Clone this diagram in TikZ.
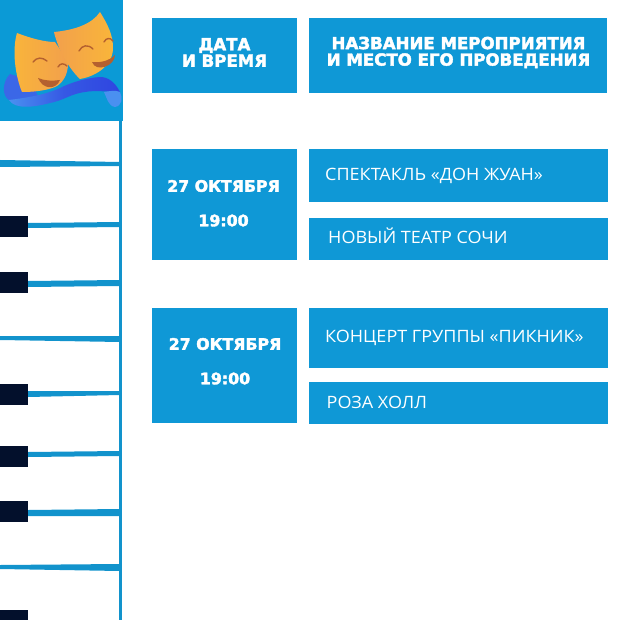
\documentclass[tikz,border=0pt]{standalone}
\usepackage{fontspec}
\setmainfont{DejaVu Sans}[BoldFeatures={FakeBold=2.4}]
\newfontfamily\namefont{Open Sans}[FakeStretch=1.06]
\usetikzlibrary{positioning}
\definecolor{panelblue}{HTML}{0B9AD6}
\definecolor{boxblue}{HTML}{0F98D6}
\definecolor{keyblack}{HTML}{03102C}
\definecolor{stringblue}{HTML}{1293CC}
\definecolor{maskgold}{HTML}{F9B53A}
\definecolor{maskorange}{HTML}{F2A04C}
\definecolor{mouthbrown}{HTML}{B4602F}
\definecolor{ribbonlight}{HTML}{4A90F0}
\definecolor{ribbondeep}{HTML}{2F45E0}

\begin{document}
\begin{tikzpicture}[x=1pt, y=-1pt,
                box/.style={fill=boxblue, anchor=north west, inner sep=0pt},
                key/.style={fill=keyblack, anchor=north west, inner sep=0pt, minimum width=28pt, minimum height=21pt},
                head/.style={text=white, align=center, font=\bfseries\fontsize{16.6}{16.5}\selectfont},
                datetxt/.style={text=white, font=\bfseries\fontsize{15.8}{16}\selectfont},
                place/.style={text=white, anchor=west, inner sep=0pt, text height=12pt, text depth=0pt, font=\namefont\fontsize{17}{20}\selectfont},
                brow/.style={mouthbrown, line width=1.4pt, line cap=round}]

                \useasboundingbox (0,0) rectangle (620,620);

                % Left strip
                \fill[panelblue] (0,0) rectangle (123,121);
                \fill[stringblue] (119,121) rectangle (122,620);

                % Strings
                \fill[stringblue] (0,160) -- (120,162) -- (120,166) -- (0,167) -- cycle;
                \fill[stringblue] (28,223) -- (120,222) -- (120,227) -- (28,228) -- cycle;
                \fill[stringblue] (28,281) -- (120,280) -- (120,286) -- (28,287) -- cycle;
                \fill[stringblue] (0,336) -- (120,336) -- (120,342) -- (0,340) -- cycle;
                \fill[stringblue] (28,391) -- (120,391) -- (120,395) -- (28,397) -- cycle;
                \fill[stringblue] (28,452) -- (120,451) -- (120,456) -- (28,457) -- cycle;
                \fill[stringblue] (28,510) -- (120,509) -- (120,516) -- (28,516) -- cycle;
                \fill[stringblue] (0,565) -- (120,564) -- (120,571) -- (0,569) -- cycle;

                % Keys
                \foreach \keyname/\keyy in {keya/216, keyb/272, keyc/384, keyd/446, keye/501}
                    \node[key] (\keyname) at (0,\keyy) {};
                \fill[keyblack] (0,610) rectangle (28,620);

                % Ribbon behind the masks
                \fill[ribbondeep!55!ribbonlight] (10,74) .. controls (2,82) and (2,96) .. (9,100)
                    -- (40,100) -- (30,80) -- cycle;

                % Masks
                \shade[left color=maskgold, right color=maskorange]
                    (17,33) .. controls (30,38) and (44,42) .. (55,42)
                    .. controls (60,50) and (66,56) .. (68,64)
                    .. controls (68,75) and (62,84) .. (55,87)
                    .. controls (45,91) and (32,92) .. (22,92)
                    .. controls (15,75) and (12,50) .. (17,33) -- cycle;
                \shade[left color=maskorange, right color=maskgold]
                    (54,32) .. controls (75,30) and (92,24) .. (100,12)
                    .. controls (108,25) and (113,35) .. (113,48)
                    .. controls (113,65) and (97,76) .. (80,79)
                    .. controls (70,70) and (58,50) .. (54,32) -- cycle;
                \draw[brow] (33,62) .. controls (37,57) and (42,57) .. (47,61);
                \draw[brow] (58,67) .. controls (60,63) and (64,63) .. (67,66);
                \draw[brow] (79,51) .. controls (82,45) and (88,44) .. (93,49);
                \draw[brow] (104,42) .. controls (106,38) and (110,37) .. (113,41);
                \fill[mouthbrown] (38,78) .. controls (45,81) and (53,81) .. (60,80) .. controls (56,90) and (43,90) .. (38,78) -- cycle;
                \fill[mouthbrown] (92,62) .. controls (100,63) and (109,61) .. (115,55) .. controls (115,66) and (96,73) .. (92,62) -- cycle;

                % Ribbon in front
                \shade[left color=ribbonlight, right color=ribbondeep, middle color=ribbondeep!75!ribbonlight]
                    (9,100) .. controls (25,98) and (45,95) .. (60,88)
                    .. controls (70,83) and (85,78) .. (100,77)
                    .. controls (108,77) and (115,82) .. (120,92)
                    .. controls (108,92) and (95,90) .. (85,92)
                    .. controls (70,94) and (65,100) .. (50,103)
                    .. controls (35,107) and (15,110) .. (9,100) -- cycle;
                \fill[ribbonlight] (104,92) .. controls (110,91) and (116,90) .. (120,92)
                    .. controls (123,98) and (122,106) .. (115,107)
                    .. controls (108,106) and (107,98) .. (104,92) -- cycle;

                % Header row
                \node[box, minimum width=145pt, minimum height=75pt] (datehead) at (152,18) {};
                \node[box, minimum width=298pt, minimum height=75pt] (namehead) at (309,18) {};
                \node[head] (datetitle) at (224.5,52.5) {ДАТА\\И ВРЕМЯ};
                \node[head] (nametitle) at (458.5,52.5) {НАЗВАНИЕ МЕРОПРИЯТИЯ\\И МЕСТО ЕГО ПРОВЕДЕНИЯ};

                % First event
                \node[box, minimum width=145pt, minimum height=111pt] (dateone) at (152,149) {};
                \node[box, minimum width=299pt, minimum height=53pt] (showone) at (309,149) {};
                \node[box, minimum width=299pt, minimum height=42pt] (hallone) at (309,218) {};
                \node[datetxt] (dayone) at (223.5,186) {27 ОКТЯБРЯ};
                \node[datetxt] (timeone) at (223.5,220.5) {19:00};
                \node[place] (showonetxt) at (325,175) {СПЕКТАКЛЬ «ДОН ЖУАН»};
                \node[place] (hallonetxt) at (328,237.5) {НОВЫЙ ТЕАТР СОЧИ};

                % Second event
                \node[box, minimum width=145pt, minimum height=115pt] (datetwo) at (152,308) {};
                \node[box, minimum width=299pt, minimum height=60pt] (showtwo) at (309,308) {};
                \node[box, minimum width=299pt, minimum height=42pt] (halltwo) at (309,382) {};
                \node[datetxt] (daytwo) at (225,344) {27 ОКТЯБРЯ};
                \node[datetxt] (timetwo) at (225,378.5) {19:00};
                \node[place] (showtwotxt) at (325,336) {КОНЦЕРТ ГРУППЫ «ПИКНИК»};
                \node[place] (halltwotxt) at (326.5,402) {РОЗА ХОЛЛ};
            \end{tikzpicture}
\end{document}
